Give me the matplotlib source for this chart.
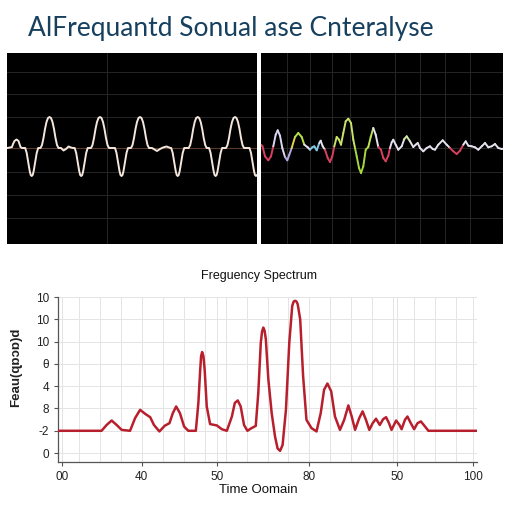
import matplotlib
matplotlib.use("Agg")
import matplotlib.pyplot as plt
from matplotlib.collections import LineCollection
import numpy as np

# ---------------- data ----------------
title_text = "AlFrequantd Sonual ase Cnteralyse"

# left oscilloscope trace (x in panel pixels, y offset from baseline)
left_x = [7, 10, 12, 13, 14.5, 16.5, 18.5, 19.5, 20.5, 22,
          25.2, 26.7, 28.2, 29.7, 30.7, 31.7, 32.7, 33.7, 35.2, 36.7, 38.2,
          40.5, 42, 43.5, 45, 46.5, 48, 49.5, 51, 52.5, 54, 55.5, 57, 58.5,
          61, 63.5, 66, 68.5, 71, 73,
          74.7, 76.2, 77.7, 79.2, 80.2, 81.2, 82.2, 83.2, 84.7, 86.2, 87.7,
          91, 92.5, 94, 95.5, 97, 98.5, 100, 101.5, 103, 104.5, 106, 107.5, 109,
          115, 116.5, 118, 119.5, 120.5, 121.5, 122.5, 123.5, 125, 126.5, 128,
          131, 132.5, 134, 135.5, 137, 138.5, 140, 141.5, 143, 144.5, 146, 147.5, 149,
          152, 154.5, 157, 160, 163, 166.5, 169, 170.5,
          171.2, 172.7, 174.2, 175.7, 176.7, 177.7, 178.7, 179.7, 181.2, 182.7, 184.2,
          188.7, 190.2, 191.7, 193.2, 194.7, 196.2, 197.7, 199.2, 200.7, 202.2, 203.7, 205.2, 206.7,
          209.1, 210.6, 212.1, 213.6, 214.6, 215.6, 216.6, 217.6, 219.1, 220.6, 222.1,
          226, 227.5, 229, 230.5, 232, 233.5, 235, 236.5, 238, 239.5, 241, 242.5, 244,
          249.5, 251, 252.5, 254, 255, 256, 257]
left_y = [0, 0.5, 1, 4, 7, 8.5, 7, 4, 1, 0,
          0, -5, -14, -23, -27, -28, -27, -23, -14, -5, 0,
          0, 3, 10, 19, 26, 30, 31, 30, 26, 19, 10, 3, 0,
          0, -2.5, -1, 1.5, 0.5, 0,
          0, -5, -14, -23, -27, -28, -27, -23, -14, -5, 0,
          0, 3, 10, 19, 26, 30, 31, 30, 26, 19, 10, 3, 0,
          0, -5, -14, -23, -27, -28, -27, -23, -14, -5, 0,
          0, 3, 10, 19, 26, 30, 31, 30, 26, 19, 10, 3, 0,
          0, -1.5, -3, -1, 0.5, 1.5, 0.5, 0,
          0, -5, -14, -23, -27, -28, -27, -23, -14, -5, 0,
          0, 3, 10, 19, 26, 30, 31, 30, 26, 19, 10, 3, 0,
          0, -5, -14, -23, -27, -28, -27, -23, -14, -5, 0,
          0, 3, 10, 19, 26, 30, 31, 30, 26, 19, 10, 3, 0,
          0, -5, -14, -23, -27, -28, -27]

# right oscilloscope trace
right_x = [261, 262.5, 265, 268.3, 271, 273.3, 275.7, 277.7, 280, 282.3,
           285, 287.3, 289.3, 291.7, 295, 298.3, 301.7, 304.3, 307.7, 310,
           312.3, 314.3, 316.7, 319.3, 320.7, 322.7, 325, 327.7, 330, 332.3,
           334.3, 336.7, 339, 341, 343.3, 345.7, 348.3, 351, 353.3, 355,
           356.7, 359, 361, 363.3, 365.7, 368.3, 370.7, 373.3, 375.7, 378.3,
           381, 383.3, 385.7, 388.3, 390, 391.7, 393.3, 395.7, 398.3, 401.7,
           404.3, 406.7, 410, 413.3, 415.7, 417.7, 420, 423.3, 426.7, 430,
           432.7, 435, 438.3, 442.7, 446.7, 450, 453.3, 456.7, 460, 463.3,
           465.7, 468.3, 471.7, 475, 478.3, 481.7, 485, 488.3, 491.7, 495,
           498.3, 501.7, 503]
right_y = [3.3, 1.7, -8.3, -12.3, -8.3, 1.7, 13.3, 17.7, 12.3, 0,
           -9, -12.3, -6.7, 0, 11, 15, 11, 3.3, 0.7, -1.7,
           0.7, 1.7, -2.3, 5, 7.3, 1.7, -1.7, -10, -14, -8.3,
           1.7, 11, 8.3, 3.3, 15, 26.7, 29.3, 25, 8.3, 0,
           -8.3, -20, -25, -18.3, -1.7, 1, 11, 20, 13.3, 1,
           -1.7, -10, -13.3, -7.7, 0, 5.7, 8.3, 3.3, -1.7, 1.7,
           9, 11.7, 6.7, 1, 3.3, 5, 0, -3.3, 0, 1.7,
           -1, -1.7, 3.3, 7.7, 3.3, 0, -3.3, -6, -2.7, 3.3,
           6.7, 2.3, 1.7, 0.7, -1.7, 1.7, 5, 0.7, 1.7, 4,
           0, -1, -0.7]
# colour breaks: (segment end x, colour)
right_color_breaks = [(273.3, "#d9405e"), (285, "#dcd6f2"), (291.7, "#b4a6e2"),
                      (295, "#e2d24e"), (304.3, "#b6e04a"), (310, "#e6e2ee"),
                      (319.3, "#86c6e6"), (325, "#e6e2ee"), (334.3, "#d9405e"),
                      (355, "#c8e26a"), (368.3, "#a6d840"), (373.3, "#bde258"),
                      (378.3, "#e6e2ee"), (390, "#d9405e"), (404.3, "#e6e2ee"),
                      (410, "#d2e8a4"), (450, "#e6e2ee"), (463.3, "#d9405e"),
                      (504, "#e6e2ee")]

# bottom spectrum
spec_x = [0, 10.4, 11.6, 12.8, 14.0, 15.2, 17.2, 18.4, 19.6, 20.8, 22.0, 22.9,
          24.2, 25.5, 26.6, 27.4, 28.2, 29.1, 30.1, 31.1, 32.9, 33.5, 33.9, 34.15,
          34.4, 34.7, 35.0, 35.5, 36.3, 37.9, 39.1, 40.3, 41.5, 42.2, 42.9, 43.6,
          44.4, 45.2, 46.2, 47.2, 47.8, 48.4, 48.7, 49.0, 49.3, 49.6, 50.2, 51.0,
          51.8, 52.4, 53.0, 53.6, 54.4, 55.2, 55.9, 56.25, 56.6, 56.9, 57.2, 57.8,
          58.5, 59.3, 60.5, 61.7, 62.7, 63.5, 64.3, 65.2, 66.1, 67.3, 68.3, 69.3,
          70.1, 70.9, 71.9, 72.7, 73.5, 74.3, 75.1, 75.9, 76.8, 77.6, 78.3, 79.0,
          79.6, 80.7, 81.5, 82.0, 82.8, 83.4, 84.2, 85.0, 85.8, 86.6, 87.6, 88.4,
          100]
spec_y = [1.0, 1.0, 1.26, 1.46, 1.26, 1.04, 1.0, 1.57, 1.94, 1.76, 1.61, 1.26,
          0.97, 1.23, 1.34, 1.79, 2.09, 1.79, 1.19, 1.0, 1.0, 2.25, 3.6, 4.35,
          4.53, 4.35, 3.75, 2.09, 1.30, 1.24, 1.07, 1.0, 1.64, 2.25, 2.36, 2.09,
          1.26, 1.0, 1.12, 1.22, 2.7, 4.95, 5.45, 5.63, 5.5, 5.11, 3.31, 1.79,
          0.74, 0.21, 0.10, 0.36, 1.94, 4.95, 6.6, 6.8, 6.83, 6.8, 6.68, 6.0,
          3.45, 1.49, 1.12, 0.97, 1.79, 2.84, 3.12, 2.77, 1.64, 1.04, 1.49, 2.14,
          1.64, 1.04, 1.57, 1.87, 1.49, 1.04, 1.34, 1.54, 1.26, 1.52, 1.61, 1.34,
          1.04, 1.46, 1.26, 1.07, 1.49, 1.64, 1.34, 1.07, 1.34, 1.42, 1.19, 1.0,
          1.0]
ytick_pos = [0, 1, 2, 3, 4, 5, 6, 7]
ytick_labels = ["0", "-2", "8", "4", "θ", "10", "10", "10"]
xtick_pos = [1, 20, 38, 60, 81, 99]
xtick_labels = ["00", "40", "50", "80", "50", "100"]
spec_title = "Freguency Spectrum"
spec_xlabel = "Time Oomain"
spec_ylabel = "Feau(ɋɒɔɒ)d"

# ---------------- figure ----------------
W = H = 512
fig = plt.figure(figsize=(5.12, 5.12), dpi=100)
fig.patch.set_facecolor("white")

def fx(px):
    return px / W

def fy(py):
    return 1 - py / H

fig.text(fx(28), fy(36), title_text, ha="left", va="baseline",
         fontsize=19, color="#17405f", family=["Lato", "DejaVu Sans"])

grid_offsets = [76, 54, 31, 0, -24, -47, -70]

# left scope
ax1 = fig.add_axes([fx(7), fy(244), fx(250), 191 / H])
ax1.set_facecolor("black")
ax1.set_xlim(7, 257)
ax1.set_ylim(-96, 95)
for g in grid_offsets:
    ax1.axhline(g, color="#262626", lw=0.7, zorder=1)
ax1.axvline(107, color="#262626", lw=0.7, zorder=1)
ax1.axhline(0, color="#5a3a28", lw=0.8, zorder=1)
ax1.plot(left_x, left_y, color="#f4e6dc", lw=1.4, zorder=3,
         solid_joinstyle="round")
ax1.set_xticks([]); ax1.set_yticks([])
for s in ax1.spines.values():
    s.set_visible(False)

# right scope
ax2 = fig.add_axes([fx(261), fy(244), fx(242), 191 / H])
ax2.set_facecolor("black")
ax2.set_xlim(261, 503)
ax2.set_ylim(-96, 95)
for g in grid_offsets:
    ax2.axhline(g, color="#262626", lw=0.7, zorder=1)
for v in [287, 310, 332, 350, 395, 420, 445, 470]:
    ax2.axvline(v, color="#262626", lw=0.7, zorder=1)
pts = np.column_stack([right_x, right_y])
segs = [pts[i:i + 2] for i in range(len(pts) - 1)]
cols = []
for i in range(len(pts) - 1):
    mid = (right_x[i] + right_x[i + 1]) / 2
    for end, c in right_color_breaks:
        if mid <= end:
            cols.append(c)
            break
lc = LineCollection(segs, colors=cols, linewidths=1.4, zorder=3,
                    capstyle="round", joinstyle="round")
ax2.add_collection(lc)
ax2.set_xticks([]); ax2.set_yticks([])
for s in ax2.spines.values():
    s.set_visible(False)

# bottom spectrum
ax3 = fig.add_axes([fx(58), fy(462), fx(419), 165 / H])
ax3.set_xlim(0, 100)
ax3.set_ylim(-0.4, 7.0)
ax3.plot(spec_x, spec_y, color="#b81f2d", lw=1.8, zorder=3,
         solid_joinstyle="round")
ax3.set_xticks(np.arange(0, 101, 5), minor=True)
ax3.set_xticks(xtick_pos)
ax3.set_xticklabels(xtick_labels)
ax3.set_yticks(ytick_pos)
ax3.set_yticklabels(ytick_labels)
ax3.grid(True, which="both", color="#e4e4e4", lw=0.7)
ax3.tick_params(axis="both", which="major", labelsize=8.5, length=3,
                color="#555555", labelcolor="#222222")
ax3.tick_params(axis="x", which="minor", length=0)
for side in ["top", "right"]:
    ax3.spines[side].set_visible(False)
for side in ["left", "bottom"]:
    ax3.spines[side].set_color("#555555")
    ax3.spines[side].set_linewidth(0.9)
for lab in ax3.get_xticklabels() + ax3.get_yticklabels():
    lab.set_family(["Liberation Sans", "DejaVu Sans"])

fig.text(fx(259), fy(276), spec_title, ha="center", va="center",
         fontsize=9, color="#111111", family=["Liberation Sans", "DejaVu Sans"])
fig.text(fx(258), fy(490), spec_xlabel, ha="center", va="center",
         fontsize=9.5, color="#111111", family=["Liberation Sans", "DejaVu Sans"])
fig.text(fx(16), fy(367), spec_ylabel, ha="center", va="center", rotation=90,
         fontsize=9.5, color="#222222", fontweight="bold",
         family=["Liberation Sans", "DejaVu Sans"])

fig.savefig("out.png", dpi=100)
